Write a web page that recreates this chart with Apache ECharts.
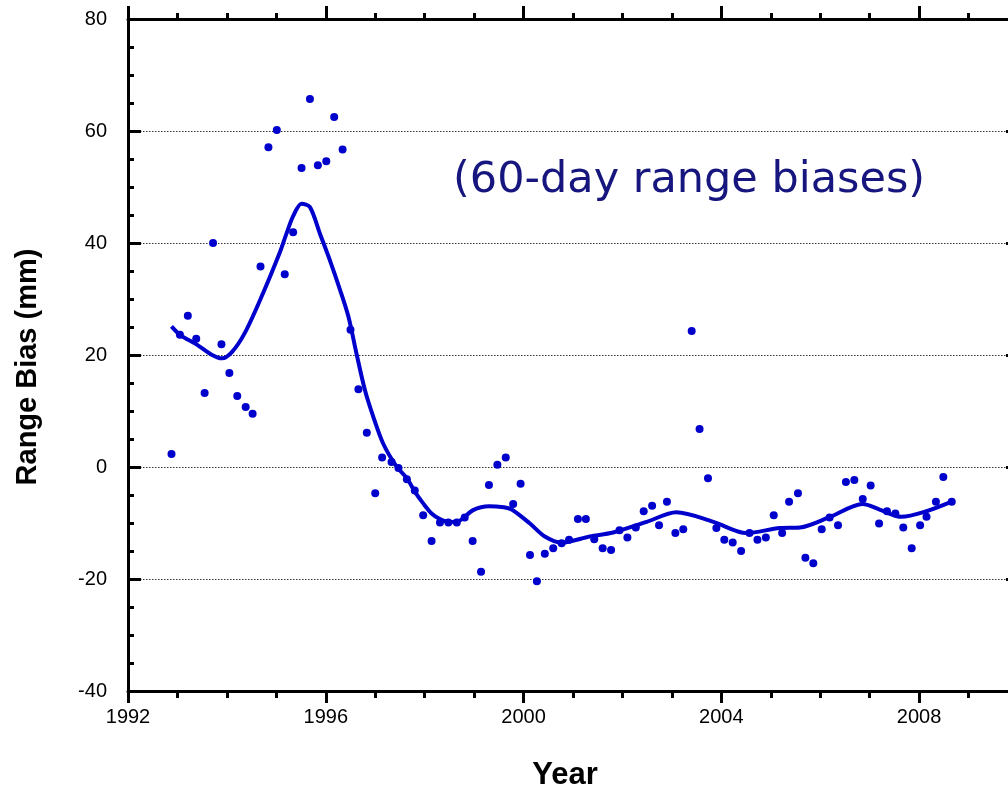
<!DOCTYPE html>
<html>
<head>
<meta charset="utf-8">
<script src="https://cdn.jsdelivr.net/npm/echarts@6/dist/echarts.min.js"></script>
<style>
html,body{margin:0;padding:0;background:#fff;}
#chart{width:1008px;height:786px;}
</style>
</head>
<body>
<div id="chart"></div>
<script>
// 60-day range bias samples (year, mm)
const pointYears = [1992.88,1993.05,1993.21,1993.38,1993.55,1993.72,1993.89,1994.05,1994.21,1994.38,1994.52,1994.68,1994.84,1995.01,1995.17,1995.34,1995.51,1995.68,1995.84,1996.01,1996.17,1996.34,1996.50,1996.66,1996.83,1997.00,1997.14,1997.33,1997.47,1997.64,1997.80,1997.97,1998.14,1998.31,1998.48,1998.65,1998.81,1998.97,1999.14,1999.30,1999.47,1999.64,1999.79,1999.94,2000.13,2000.27,2000.43,2000.60,2000.77,2000.92,2001.10,2001.26,2001.43,2001.60,2001.77,2001.94,2002.10,2002.27,2002.43,2002.60,2002.74,2002.90,2003.07,2003.23,2003.40,2003.56,2003.73,2003.90,2004.06,2004.23,2004.40,2004.57,2004.73,2004.90,2005.06,2005.23,2005.37,2005.55,2005.70,2005.86,2006.03,2006.19,2006.36,2006.52,2006.69,2006.86,2007.02,2007.19,2007.35,2007.52,2007.68,2007.85,2008.02,2008.15,2008.34,2008.49,2008.66];
const pointBias = [2.3,23.6,27.0,22.9,13.2,40.0,21.9,16.8,12.7,10.7,9.5,35.8,57.1,60.2,34.4,41.9,53.4,65.7,53.9,54.6,62.5,56.7,24.5,13.9,6.1,-4.7,1.7,0.9,-0.2,-2.2,-4.2,-8.6,-13.2,-9.9,-9.9,-9.9,-9.0,-13.2,-18.7,-3.2,0.4,1.7,-6.6,-3.0,-15.7,-20.4,-15.5,-14.5,-13.6,-13.0,-9.3,-9.3,-12.9,-14.5,-14.8,-11.3,-12.6,-10.8,-7.9,-6.9,-10.4,-6.2,-11.8,-11.1,24.3,6.8,-2.0,-10.9,-13.0,-13.5,-15.0,-11.8,-13.0,-12.6,-8.6,-11.8,-6.2,-4.7,-16.2,-17.2,-11.1,-9.0,-10.4,-2.7,-2.3,-5.7,-3.3,-10.1,-7.9,-8.3,-10.8,-14.5,-10.4,-8.9,-6.2,-1.8,-6.2];

// smoothed curve (year, mm)
const curveYears = [1992.88,1993.05,1993.4,1993.7,1993.9,1994.1,1994.36,1994.7,1995.07,1995.21,1995.34,1995.51,1995.68,1995.88,1996.08,1996.29,1996.46,1996.62,1996.79,1996.96,1997.16,1997.43,1997.64,1997.8,1997.97,1998.14,1998.31,1998.5,1998.7,1998.98,1999.3,1999.6,1999.76,2000.13,2000.43,2000.77,2001.34,2001.81,2002.49,2003.09,2003.84,2004.51,2005.18,2005.59,2006.2,2006.86,2007.2,2007.64,2008.15,2008.66];
const curveBias = [25.1,23.6,21.8,20.0,19.4,20.5,23.9,30.4,38.3,41.8,44.8,47.0,46.4,41.7,37.0,31.6,26.8,20.3,13.8,9.0,4.2,0.1,-2.0,-4.4,-6.5,-8.3,-9.3,-9.8,-9.6,-7.7,-7.0,-7.2,-7.6,-10.1,-12.4,-13.5,-12.4,-11.7,-9.8,-8.1,-9.8,-11.8,-10.9,-10.8,-8.9,-6.6,-7.6,-8.9,-7.9,-6.2];

const xTicks = {min: 1992, max: 2010, interval: 4};
const yTicks = {min: -40, max: 80, interval: 20};
const annotation = '(60-day range biases)';

const blue = '#0000CC';
const tickFont = {fontFamily: 'Liberation Sans, Arial, sans-serif', fontSize: 20, color: '#000'};
const axisLine = {show: true, onZero: false, lineStyle: {color: '#000', width: 3}};

const chart = echarts.init(document.getElementById('chart'), null, {renderer: 'canvas'});
chart.setOption({
  animation: false,
  backgroundColor: '#fff',
  grid: {left: 128, top: 19, width: 890, height: 672, containLabel: false, outerBoundsMode: 'none'},
  xAxis: [{
    type: 'value', position: 'bottom', min: xTicks.min, max: xTicks.max, interval: xTicks.interval,
    axisLine: axisLine,
    axisTick: {show: true, inside: false, length: 12, lineStyle: {color: '#000', width: 3}},
    minorTick: {show: true, splitNumber: 4, length: 7, lineStyle: {color: '#000', width: 3}},
    axisLabel: Object.assign({margin: 16, formatter: v => v < 2010 ? String(v) : ''}, tickFont),
    splitLine: {show: false},
    name: 'Year', nameLocation: 'middle', nameGap: 69,
    nameTextStyle: {fontFamily: 'Liberation Sans, Arial, sans-serif', fontSize: 31, fontWeight: 'bold', color: '#000', padding: [0, 16, 0, 0]}
  }, {
    type: 'value', position: 'top', min: xTicks.min, max: xTicks.max, interval: xTicks.interval,
    axisLine: axisLine,
    axisTick: {show: true, inside: false, length: 13, lineStyle: {color: '#000', width: 3}},
    minorTick: {show: true, splitNumber: 4, length: 6, lineStyle: {color: '#000', width: 3}},
    axisLabel: {show: false},
    splitLine: {show: false}
  }],
  yAxis: [{
    type: 'value', position: 'left', min: yTicks.min, max: yTicks.max, interval: yTicks.interval,
    axisLine: axisLine,
    axisTick: {show: true, inside: true, length: 13, lineStyle: {color: '#000', width: 3}},
    minorTick: {show: true, splitNumber: 4, length: 6, lineStyle: {color: '#000', width: 3}},
    axisLabel: Object.assign({margin: 21}, tickFont),
    splitLine: {show: true, lineStyle: {color: '#333', width: 1, type: [1.5, 1.5]}},
    name: 'Range Bias (mm)', nameLocation: 'middle', nameGap: 86, nameRotate: 90,
    nameTextStyle: {fontFamily: 'Liberation Sans, Arial, sans-serif', fontSize: 29, fontWeight: 'bold', color: '#000', padding: [0, 24, 0, 0]}
  }, {
    type: 'value', position: 'right', min: yTicks.min, max: yTicks.max, interval: yTicks.interval,
    axisLine: axisLine,
    axisTick: {show: true, inside: true, length: 12, lineStyle: {color: '#000', width: 3}},
    minorTick: {show: true, splitNumber: 4, length: 6, lineStyle: {color: '#000', width: 3}},
    axisLabel: {show: false},
    splitLine: {show: false}
  }],
  graphic: [{
    type: 'text', left: 453, top: 159, z: 10,
    style: {text: annotation, fill: '#16167e', font: '43px "DejaVu Sans", Verdana, sans-serif'}
  }],
  series: [{
    type: 'line', name: 'smoothed', xAxisIndex: 0, yAxisIndex: 0,
    data: curveYears.map((y, i) => [y, curveBias[i]]),
    smooth: 0.3, showSymbol: false, symbol: 'none',
    lineStyle: {color: blue, width: 4}, z: 3
  }, {
    type: 'scatter', name: 'bias', xAxisIndex: 0, yAxisIndex: 0,
    data: pointYears.map((y, i) => [y, pointBias[i]]),
    symbol: 'circle', symbolSize: 8,
    itemStyle: {color: blue, opacity: 1}, z: 4
  }]
});
</script>
</body>
</html>
